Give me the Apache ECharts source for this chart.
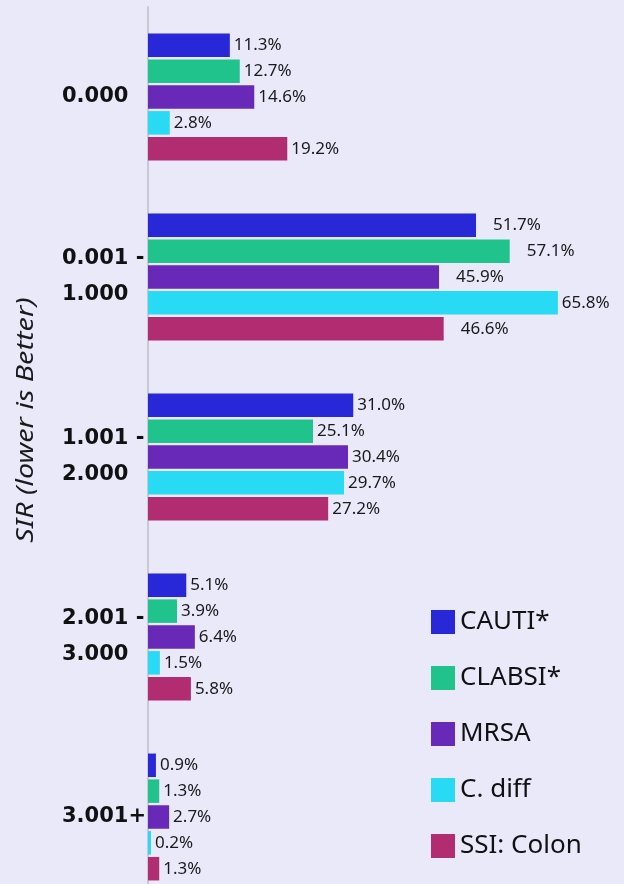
<!DOCTYPE html>
<html>
<head>
<meta charset="utf-8">
<script src="https://cdn.jsdelivr.net/npm/echarts@6/dist/echarts.min.js"></script>
<style>
  html, body { margin: 0; padding: 0; background: #eae9fa; overflow: hidden; }
  /* the plot runs a little past the bottom edge of the picture, as in the source */
  #chart { width: 624px; height: 907px; }
</style>
</head>
<body>
<div id="chart"></div>
<script>
const categories = ["0.000", "0.001 -\n1.000", "1.001 -\n2.000", "2.001 -\n3.000", "3.001+"];
const seriesNames = ["CAUTI*", "CLABSI*", "MRSA", "C. diff", "SSI: Colon"];

// bar lengths as drawn in the picture (the source chart does not scale them exactly to the labels)
const cautiBar = [12.4, 49.7, 31.1, 5.8, 1.2];
const clabsiBar = [13.9, 54.8, 25.0, 4.4, 1.7];
const mrsaBar = [16.1, 44.1, 30.3, 7.1, 3.2];
const cdiffBar = [3.3, 62.1, 29.7, 1.8, 0.45];
const ssiBar = [21.1, 44.8, 27.3, 6.5, 1.7];

// percentages printed next to the bars
const cautiPct = [11.3, 51.7, 31.0, 5.1, 0.9];
const clabsiPct = [12.7, 57.1, 25.1, 3.9, 1.3];
const mrsaPct = [14.6, 45.9, 30.4, 6.4, 2.7];
const cdiffPct = [2.8, 65.8, 29.7, 1.5, 0.2];
const ssiPct = [19.2, 46.6, 27.2, 5.8, 1.3];

const colors = ["#2828d8", "#20c38c", "#6829b8", "#28daf4", "#b22c72"];

const bars = [cautiBar, clabsiBar, mrsaBar, cdiffBar, ssiBar];
const pcts = [cautiPct, clabsiPct, mrsaPct, cdiffPct, ssiPct];

const chart = echarts.init(document.getElementById("chart"));

const series = seriesNames.map((name, s) => ({
  name,
  type: "bar",
  barWidth: 23.5,
  barGap: "10%",
  itemStyle: { color: colors[s] },
  data: bars[s].map((v, i) => ({
    value: v,
    label: { distance: (i === 1 && s !== 3) ? 17 : 4 }
  })),
  label: {
    show: true,
    position: "right",
    fontFamily: "Noto Sans",
    fontSize: 17,
    color: "#1a1a1a",
    formatter: (p) => pcts[s][p.dataIndex].toFixed(1) + "%"
  }
}));

chart.setOption({
  backgroundColor: "#eae9fa",
  animation: false,
  grid: { left: 148, right: 14, top: 7, bottom: 0 },
  legend: {
    orient: "vertical",
    left: 426,
    top: 604,
    icon: "rect",
    itemWidth: 24,
    itemHeight: 24,
    itemGap: 30,
    itemTextGap: 10,
    textStyle: { fontFamily: "Noto Sans", fontSize: 26, lineHeight: 26, color: "#111" },
    data: seriesNames
  },
  xAxis: {
    type: "value",
    min: 0,
    max: 70,
    show: false
  },
  yAxis: {
    type: "category",
    inverse: true,
    data: categories,
    axisTick: { show: false },
    axisLine: { lineStyle: { color: "#c9c9d3", width: 2 } },
    axisLabel: {
      align: "left",
      margin: 86,
      fontFamily: "DejaVu Sans",
      fontWeight: "bold",
      fontSize: 21,
      lineHeight: 36,
      color: "#111"
    }
  },
  graphic: [{
    type: "text",
    x: 26,
    y: 420,
    rotation: Math.PI / 2,
    scaleX: 1.25,
    style: {
      text: "SIR (lower is Better)",
      fontFamily: "Noto Sans",
      fontStyle: "italic",
      fontSize: 23,
      fill: "#1a1a1a",
      textAlign: "center",
      textVerticalAlign: "middle"
    }
  }],
  series
});
</script>
</body>
</html>
